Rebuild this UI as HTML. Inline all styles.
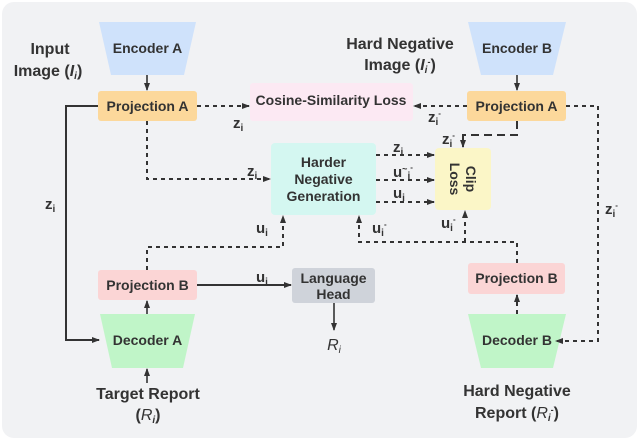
<!DOCTYPE html>
<html><head><meta charset="utf-8"><style>
html,body{margin:0;padding:0;background:#fff;}
svg{display:block;font-family:"Liberation Sans",Arial,sans-serif;}
.b{font-weight:bold;fill:#333;font-size:14px;}
.t{font-weight:bold;fill:#333;font-size:16px;}
.l{font-weight:bold;fill:#333;font-size:15px;}
</style></head><body>
<svg width="640" height="441" viewBox="0 0 640 441">
<defs>
<marker id="a" markerWidth="8" markerHeight="8" refX="7" refY="4" orient="auto" markerUnits="userSpaceOnUse"><path d="M0,1 L8,4 L0,7 z" fill="#333"/></marker>
</defs>
<rect x="2" y="2" width="635" height="436" rx="12" fill="#f1f2f4"/>
<polygon points="99,22 196,22 184,75 111,75" fill="#cfe2fb"/>
<text class="b" x="147.5" y="53" text-anchor="middle">Encoder A</text>
<polygon points="468,22 566,22 553,75 481,75" fill="#cfe2fb"/>
<text class="b" x="517" y="53" text-anchor="middle">Encoder B</text>
<text class="t" x="50" y="54" text-anchor="middle">Input</text>
<text class="t" x="48" y="76" text-anchor="middle">Image (<tspan font-style="italic">I</tspan><tspan font-size="10" dy="3" font-style="italic">i</tspan><tspan dy="-3">)</tspan></text>
<text class="t" x="400" y="49" text-anchor="middle">Hard Negative</text>
<text class="t" x="400" y="70" text-anchor="middle">Image (<tspan font-style="italic">I</tspan><tspan font-size="10" dy="3" font-style="italic">i</tspan><tspan font-size="9" dy="-8">-</tspan><tspan dy="5">)</tspan></text>
<rect x="98" y="91" width="99" height="30" rx="3" fill="#fcd89b"/>
<text class="b" x="147.5" y="111" text-anchor="middle">Projection A</text>
<rect x="467" y="91" width="99" height="30" rx="3" fill="#fcd89b"/>
<text class="b" x="516.5" y="111" text-anchor="middle">Projection A</text>
<rect x="250" y="83" width="163" height="38" rx="3" fill="#fce9f3"/>
<text class="b" x="331" y="105" text-anchor="middle">Cosine-Similarity Loss</text>
<rect x="271" y="143" width="105" height="72" rx="4" fill="#d4f7f1"/>
<text class="b" x="323.5" y="167" text-anchor="middle">Harder</text>
<text class="b" x="323.5" y="184" text-anchor="middle">Negative</text>
<text class="b" x="323.5" y="201" text-anchor="middle">Generation</text>
<rect x="435" y="148" width="56" height="62" rx="4" fill="#fbf6c7"/>
<text class="b" transform="translate(463,179) rotate(90)" text-anchor="middle"><tspan x="0" y="-3">Clip</tspan><tspan x="0" y="13">Loss</tspan></text>
<rect x="98" y="270" width="99" height="30" rx="3" fill="#fbd5d5"/>
<text class="b" x="147.5" y="290" text-anchor="middle">Projection B</text>
<rect x="468" y="263" width="97" height="31" rx="3" fill="#fbd5d5"/>
<text class="b" x="516.5" y="283" text-anchor="middle">Projection B</text>
<rect x="292" y="268" width="83" height="35" rx="3" fill="#cfd3da"/>
<text class="b" x="333.5" y="283" text-anchor="middle">Language</text>
<text class="b" x="333.5" y="299" text-anchor="middle">Head</text>
<text x="334" y="350" font-size="16" font-style="italic" fill="#333" text-anchor="middle">R<tspan font-size="10" dy="3">i</tspan></text>
<polygon points="100,314 195,314 183,368 112,368" fill="#c0f5c8"/>
<text class="b" x="147.5" y="345" text-anchor="middle">Decoder A</text>
<polygon points="468,314 566,314 553,368 481,368" fill="#c0f5c8"/>
<text class="b" x="517" y="345" text-anchor="middle">Decoder B</text>
<text class="t" x="148" y="399" text-anchor="middle">Target Report</text>
<text class="t" x="148" y="420" text-anchor="middle">(<tspan font-style="italic" font-weight="normal">R</tspan><tspan font-size="10" dy="3" font-style="italic">i</tspan><tspan dy="-3">)</tspan></text>
<text class="t" x="517" y="396" text-anchor="middle">Hard Negative</text>
<text class="t" x="517" y="418" text-anchor="middle">Report (<tspan font-style="italic" font-weight="normal">R</tspan><tspan font-size="10" dy="3" font-style="italic">i</tspan><tspan font-size="9" dy="-8">-</tspan><tspan dy="5">)</tspan></text>

<g stroke="#333" fill="none" stroke-width="1.6">
<path d="M147,75 V90" marker-end="url(#a)"/>
<path d="M517,75 V90" marker-end="url(#a)"/>
<path d="M98,106 H66 V340 H99" stroke-width="2" marker-end="url(#a)"/>
<path d="M197,285 H291" stroke-width="2" marker-end="url(#a)"/>
<path d="M334,303 V330" marker-end="url(#a)"/>
<path d="M147,314 V301" marker-end="url(#a)"/>
<path d="M147,383 V369" marker-end="url(#a)"/>
<g stroke-dasharray="4,4" stroke-width="2">
<path d="M197,106 H249" marker-end="url(#a)"/>
<path d="M147,121 V179 H270" marker-end="url(#a)"/>
<path d="M467,106 H414" marker-end="url(#a)"/>
<path d="M566,106 H598 V341 H556" marker-end="url(#a)"/>
<path d="M376,155 H434" marker-end="url(#a)"/>
<path d="M376,180 H434" marker-end="url(#a)"/>
<path d="M376,202 H434" marker-end="url(#a)"/>
<path d="M147,270 V247 H283 V216" marker-end="url(#a)"/>
<path d="M517,263 V242 H359 V216" marker-end="url(#a)"/>
<path d="M465,242 V211" marker-end="url(#a)"/>
<path d="M517,314 V295" marker-end="url(#a)"/>
</g>
<path d="M517,121 V135 H463 V147" stroke-dasharray="8,5" stroke-width="2" marker-end="url(#a)"/>
</g>
<g class="l">
<text class="l" x="45" y="209">z<tspan font-size="10" dy="3">i</tspan></text>
<text class="l" x="233" y="128">z<tspan font-size="10" dy="3">i</tspan></text>
<text class="l" x="247" y="176">z<tspan font-size="10" dy="3">i</tspan></text>
<text class="l" x="428" y="122">z<tspan font-size="10" dy="3">i</tspan><tspan font-size="8" dy="-9">-</tspan></text>
<text class="l" x="442" y="144">z<tspan font-size="10" dy="3">i</tspan><tspan font-size="8" dy="-9">-</tspan></text>
<text class="l" x="605" y="214">z<tspan font-size="10" dy="3">i</tspan><tspan font-size="8" dy="-9">-</tspan></text>
<text class="l" x="393" y="152">z<tspan font-size="10" dy="3">i</tspan></text>
<text class="l" x="393" y="177">u<tspan font-size="9" dy="-5">~</tspan><tspan font-size="10" dy="7">i</tspan><tspan font-size="8" dy="-9">-</tspan></text>
<text class="l" x="393" y="198">u<tspan font-size="10" dy="3">i</tspan></text>
<text class="l" x="256" y="233">u<tspan font-size="10" dy="3">i</tspan></text>
<text class="l" x="372" y="233">u<tspan font-size="10" dy="3">i</tspan><tspan font-size="8" dy="-9">-</tspan></text>
<text class="l" x="441" y="228">u<tspan font-size="10" dy="3">i</tspan><tspan font-size="8" dy="-9">-</tspan></text>
<text class="l" x="256" y="282">u<tspan font-size="10" dy="3">i</tspan></text>
</g>
</svg>
</body></html>
